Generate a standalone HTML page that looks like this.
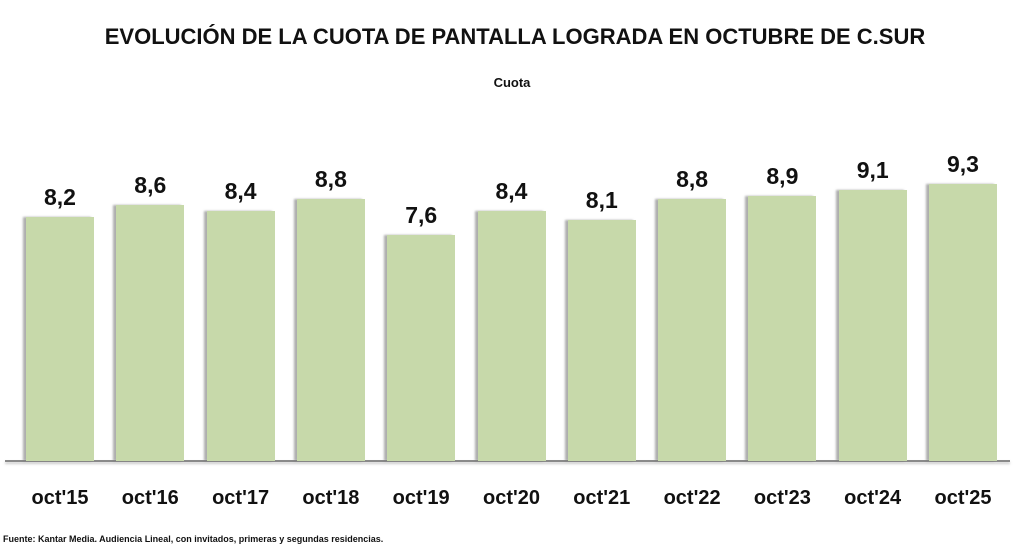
<!DOCTYPE html>
<html><head><meta charset="utf-8"><style>
body{margin:0;width:1024px;height:549px;background:#fff;position:relative;overflow:hidden;font-family:"Liberation Sans",sans-serif;}
.t{position:absolute;left:0;width:1024px;text-align:center;font-weight:bold;color:#111;}
.bar{position:absolute;background:#c7d9aa;width:68px;box-shadow:-3px 0 2px rgba(120,120,120,0.6);}
.v{position:absolute;width:90px;text-align:center;font-weight:bold;font-size:23px;color:#111;}
.x{position:absolute;top:487px;width:100px;text-align:center;font-weight:bold;font-size:20px;color:#111;}
</style></head><body>
<div class="t" style="top:24px;font-size:22px;left:3px;">EVOLUCIÓN DE LA CUOTA DE PANTALLA LOGRADA EN OCTUBRE DE C.SUR</div>
<div class="t" style="top:75px;font-size:13px;">Cuota</div>
<div style="position:absolute;left:5px;top:460px;width:1005px;height:2px;background:#8a8a8a;box-shadow:0 2px 2px rgba(150,150,150,0.5);"></div>
<div id="c"></div>
<div style="position:absolute;left:3px;top:534px;font-size:9px;font-weight:bold;color:#111;">Fuente: Kantar Media. Audiencia Lineal, con invitados, primeras y segundas residencias.</div>
<script>
var v=[8.2,8.6,8.4,8.8,7.6,8.4,8.1,8.8,8.9,9.1,9.3],l=["oct'15","oct'16","oct'17","oct'18","oct'19","oct'20","oct'21","oct'22","oct'23","oct'24","oct'25"],h="";
for(var i=0;i<11;i++){var x=26+i*90.3,t=461-v[i]*29.8;
h+='<div class="bar" style="left:'+x+'px;top:'+t+'px;height:'+(461-t)+'px"></div>';
h+='<div class="v" style="left:'+(x-11)+'px;top:'+(t-33)+'px">'+v[i].toFixed(1).replace(".",",")+'</div>';
h+='<div class="x" style="left:'+(x-16)+'px">'+l[i]+'</div>';}
document.getElementById("c").innerHTML=h;
</script>
</body></html>
